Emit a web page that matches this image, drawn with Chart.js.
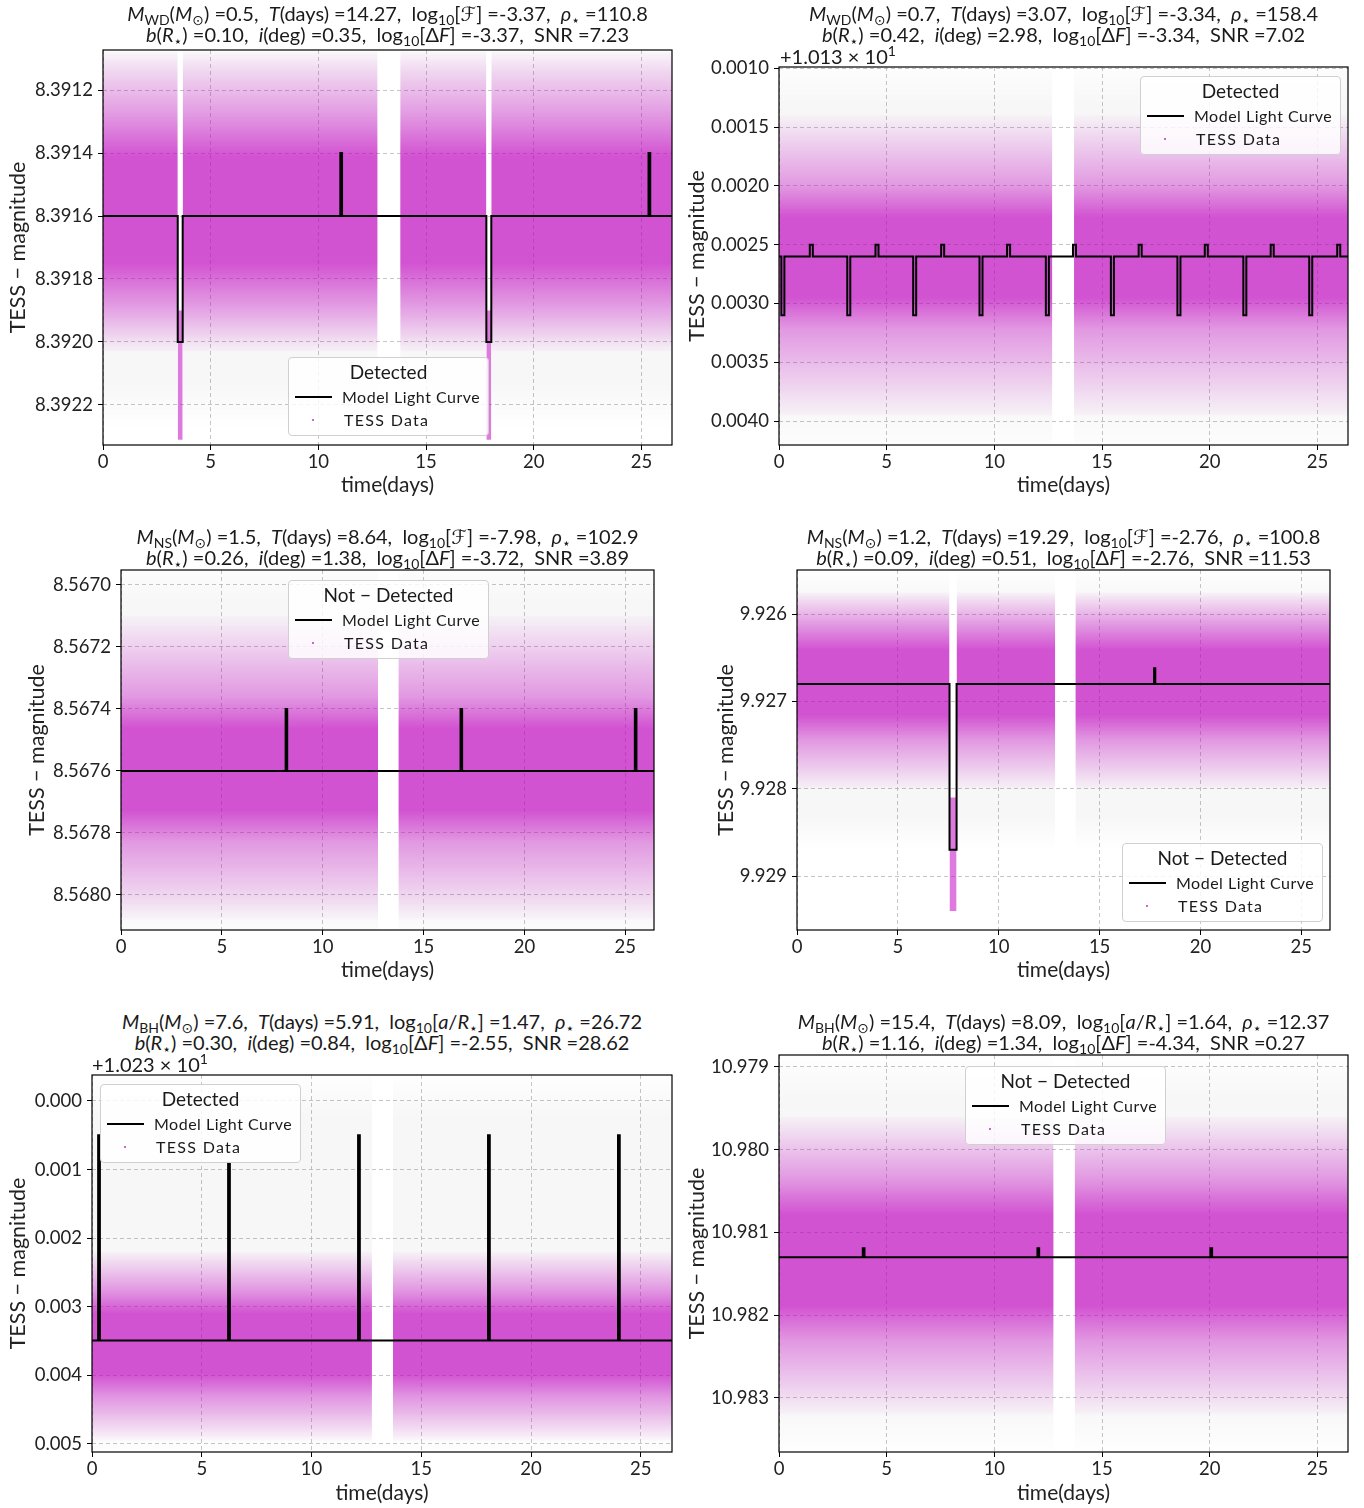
<!DOCTYPE html>
<html>
<head>
<meta charset="utf-8">
<title>TESS light curves</title>
<script src="https://cdn.jsdelivr.net/npm/chart.js@4.4.1/dist/chart.umd.min.js"></script>
<style>
  html,body{margin:0;padding:0;background:#fff;}
  #root{position:relative;width:1364px;height:1508px;overflow:hidden;background:#fff;font-family:Lato,"DejaVu Sans",sans-serif;color:#1a1a1a;}
  #root canvas{position:absolute;}
  .ttl{position:absolute;white-space:nowrap;text-align:center;font-size:20px;line-height:21px;transform:translateX(-50%);}
  .ttl i{font-style:italic;}
  .ttl sub{font-size:70%;vertical-align:-0.28em;line-height:0;}
  .off{position:absolute;font-size:20px;line-height:20px;white-space:nowrap;}
  .off sup{font-size:70%;vertical-align:0.55em;line-height:0;}
  .leg{position:absolute;width:201px;height:79px;box-sizing:border-box;border:1px solid #d0d0d0;border-radius:4px;background:rgba(255,255,255,0.82);}
  .leg .lt{position:absolute;left:0;right:0;top:3px;text-align:center;font-size:19px;line-height:22px;}
  .leg .ln{position:absolute;left:6px;top:38px;width:37px;height:2px;background:#000;}
  .leg .dot{position:absolute;left:23px;top:61px;width:2px;height:2px;border-radius:1px;background:#c030c0;}
  .leg .t1{position:absolute;left:53px;top:29px;font-size:16px;line-height:20px;letter-spacing:0.5px;}
  .leg .t2{position:absolute;left:55px;top:52px;font-size:16px;line-height:20px;letter-spacing:1.3px;}
</style>
</head>
<body>
<div id="root"></div>
<script>
// ===================== DATA =====================
const xTicks = [0, 5, 10, 15, 20, 25];

// ---- Panel 1 : WD 0.5 Msun (magnitude) ----
const p1_yTicks   = [8.3912, 8.3914, 8.3916, 8.3918, 8.3920, 8.3922];
const p1_modelT   = [0, 3.47, 3.70, 11.02, 11.10, 17.80, 18.03, 25.33, 25.41, 26.42];
const p1_modelMag = [8.3916, 8.3920, 8.3916, 8.3914, 8.3916, 8.3920, 8.3916, 8.3914, 8.3916, 8.3916];
// TESS data cloud (read band edges: dense core, sparse outer, error-bar haze)
const p1_t       = [0, 3.47, null, 3.70, 12.75, null, 13.80, 17.80, null, 18.03, 26.42];
const p1_coreHi  = [8.39128, 8.39128, null, 8.39128, 8.39128, null, 8.39128, 8.39128, null, 8.39128, 8.39128];
const p1_coreLo  = [8.39188, 8.39188, null, 8.39188, 8.39188, null, 8.39188, 8.39188, null, 8.39188, 8.39188];
const p1_outHi   = [8.39108, 8.39108, null, 8.39108, 8.39108, null, 8.39108, 8.39108, null, 8.39108, 8.39108];
const p1_outLo   = [8.39203, 8.39203, null, 8.39203, 8.39203, null, 8.39203, 8.39203, null, 8.39203, 8.39203];
const p1_errHi   = [8.39100, 8.39100, null, 8.39100, 8.39100, null, 8.39100, 8.39100, null, 8.39100, 8.39100];
const p1_errLo   = [8.39228, 8.39228, null, 8.39228, 8.39228, null, 8.39228, 8.39228, null, 8.39228, 8.39228];
// in-transit data columns
const p1_dipT  = [3.47, 3.70, null, 17.80, 18.03];
const p1_dipHi = [8.39190, 8.39190, null, 8.39190, 8.39190];
const p1_dipLo = [8.39231, 8.39231, null, 8.39231, 8.39231];

// ---- Panel 2 : WD 0.7 Msun (magnitude - 10.13) ----
const p2_yTicks   = [0.0010, 0.0015, 0.0020, 0.0025, 0.0030, 0.0035, 0.0040];
const p2_modelT   = [0, 0.11, 0.25, 1.43, 1.57, 3.17, 3.31, 4.48, 4.62, 6.23, 6.37, 7.53, 7.67, 9.31, 9.45, 10.59, 10.73,
                     12.39, 12.53, 13.65, 13.79, 15.41, 15.55, 16.70, 16.84, 18.50, 18.64, 19.77, 19.91, 21.56, 21.70,
                     22.83, 22.97, 24.62, 24.76, 25.92, 26.06, 26.42];
const p2_modelMag = [0.0026, 0.0031, 0.0026, 0.0025, 0.0026, 0.0031, 0.0026, 0.0025, 0.0026, 0.0031, 0.0026, 0.0025, 0.0026,
                     0.0031, 0.0026, 0.0025, 0.0026, 0.0031, 0.0026, 0.0025, 0.0026, 0.0031, 0.0026, 0.0025, 0.0026,
                     0.0031, 0.0026, 0.0025, 0.0026, 0.0031, 0.0026, 0.0025, 0.0026, 0.0031, 0.0026, 0.0025, 0.0026, 0.0026];
const p2_t      = [0, 12.69, null, 13.70, 26.42];
const p2_coreHi = [0.00200, 0.00200, null, 0.00200, 0.00200];
const p2_coreLo = [0.00322, 0.00322, null, 0.00322, 0.00322];
const p2_outHi  = [0.00140, 0.00140, null, 0.00140, 0.00140];
const p2_outLo  = [0.00395, 0.00395, null, 0.00395, 0.00395];
const p2_errHi  = [0.00090, 0.00090, null, 0.00090, 0.00090];
const p2_errLo  = [0.00430, 0.00430, null, 0.00430, 0.00430];
const p2_dipT = [], p2_dipHi = [], p2_dipLo = [];

// ---- Panel 3 : NS 1.5 Msun ----
const p3_yTicks   = [8.5670, 8.5672, 8.5674, 8.5676, 8.5678, 8.5680];
const p3_modelT   = [0, 8.16, 8.24, 16.83, 16.91, 25.47, 25.55, 26.42];
const p3_modelMag = [8.5676, 8.5674, 8.5676, 8.5674, 8.5676, 8.5674, 8.5676, 8.5676];
const p3_t      = [0, 12.74, null, 13.75, 26.42];
const p3_coreHi = [8.56736, 8.56736, null, 8.56736, 8.56736];
const p3_coreLo = [8.56783, 8.56783, null, 8.56783, 8.56783];
const p3_outHi  = [8.56710, 8.56710, null, 8.56710, 8.56710];
const p3_outLo  = [8.56808, 8.56808, null, 8.56808, 8.56808];
const p3_errHi  = [8.56690, 8.56690, null, 8.56690, 8.56690];
const p3_errLo  = [8.56818, 8.56818, null, 8.56818, 8.56818];
const p3_dipT = [], p3_dipHi = [], p3_dipLo = [];

// ---- Panel 4 : NS 1.2 Msun ----
const p4_yTicks   = [9.926, 9.927, 9.928, 9.929];
const p4_modelT   = [0, 7.56, 7.91, 17.70, 17.76, 26.42];
const p4_modelMag = [9.9268, 9.9287, 9.9268, 9.92662, 9.9268, 9.9268];
const p4_t      = [0, 7.56, null, 7.91, 12.80, null, 13.80, 26.42];
const p4_coreHi = [9.92612, 9.92612, null, 9.92612, 9.92612, null, 9.92612, 9.92612];
const p4_coreLo = [9.92745, 9.92745, null, 9.92745, 9.92745, null, 9.92745, 9.92745];
const p4_outHi  = [9.92575, 9.92575, null, 9.92575, 9.92575, null, 9.92575, 9.92575];
const p4_outLo  = [9.92800, 9.92800, null, 9.92800, 9.92800, null, 9.92800, 9.92800];
const p4_errHi  = [9.92545, 9.92545, null, 9.92545, 9.92545, null, 9.92545, 9.92545];
const p4_errLo  = [9.92870, 9.92870, null, 9.92870, 9.92870, null, 9.92870, 9.92870];
const p4_dipT  = [7.56, 7.91];
const p4_dipHi = [9.92810, 9.92810];
const p4_dipLo = [9.92940, 9.92940];

// ---- Panel 5 : BH 7.6 Msun (magnitude - 10.23) ----
const p5_yTicks   = [0.000, 0.001, 0.002, 0.003, 0.004, 0.005];
const p5_modelT   = [0, 0.28, 0.36, 6.20, 6.28, 12.12, 12.20, 18.04, 18.12, 23.96, 24.04, 26.42];
const p5_modelMag = [0.00349, 0.0005, 0.00349, 0.0009, 0.00349, 0.0005, 0.00349, 0.0005, 0.00349, 0.0005, 0.00349, 0.00349];
const p5_t      = [0, 12.75, null, 13.71, 26.42];
const p5_coreHi = [0.00275, 0.00275, null, 0.00275, 0.00275];
const p5_coreLo = [0.00433, 0.00433, null, 0.00433, 0.00433];
const p5_outHi  = [0.00220, 0.00220, null, 0.00220, 0.00220];
const p5_outLo  = [0.00495, 0.00495, null, 0.00495, 0.00495];
const p5_errHi  = [-0.00045, -0.00045, null, -0.00045, -0.00045];
const p5_errLo  = [0.00520, 0.00520, null, 0.00520, 0.00520];
const p5_dipT = [], p5_dipHi = [], p5_dipLo = [];

// ---- Panel 6 : BH 15.4 Msun ----
const p6_yTicks   = [10.979, 10.980, 10.981, 10.982, 10.983];
const p6_modelT   = [0, 3.89, 3.97, 12.00, 12.08, 20.03, 20.11, 26.42];
const p6_modelMag = [10.9813, 10.98119, 10.9813, 10.98119, 10.9813, 10.98119, 10.9813, 10.9813];
const p6_t      = [0, 12.75, null, 13.73, 26.42];
const p6_coreHi = [10.98035, 10.98035, null, 10.98035, 10.98035];
const p6_coreLo = [10.98232, 10.98232, null, 10.98232, 10.98232];
const p6_outHi  = [10.97960, 10.97960, null, 10.97960, 10.97960];
const p6_outLo  = [10.98320, 10.98320, null, 10.98320, 10.98320];
const p6_errHi  = [10.97880, 10.97880, null, 10.97880, 10.97880];
const p6_errLo  = [10.98372, 10.98372, null, 10.98372, 10.98372];
const p6_dipT = [], p6_dipHi = [], p6_dipLo = [];

// ---- Titles (parameters shown above each panel) ----
const titleObj    = ['WD', 'WD', 'NS', 'NS', 'BH', 'BH'];
const titleMass   = ['0.5', '0.7', '1.5', '1.2', '7.6', '15.4'];
const titlePeriod = ['14.27', '3.07', '8.64', '19.29', '5.91', '8.09'];
const titleThird  = ['F', 'F', 'F', 'F', 'a', 'a'];
const titleThirdV = ['-3.37', '-3.34', '-7.98', '-2.76', '1.47', '1.64'];
const titleRho    = ['110.8', '158.4', '102.9', '100.8', '26.72', '12.37'];
const titleB      = ['0.10', '0.42', '0.26', '0.09', '0.30', '1.16'];
const titleInc    = ['0.35', '2.98', '1.38', '0.51', '0.84', '1.34'];
const titleDF     = ['-3.37', '-3.34', '-3.72', '-2.76', '-2.55', '-4.34'];
const titleSNR    = ['7.23', '7.02', '3.89', '11.53', '28.62', '0.27'];
const legendTitle = ['Detected', 'Detected', 'Not \u2212 Detected', 'Not \u2212 Detected', 'Detected', 'Not \u2212 Detected'];

// ===================== LAYOUT =====================
const LAYOUT = [
  {plot:{l:103,t:50,r:672,b:445},   yLabX:18,  xLabY:485,  titleTop:3,    yMin:8.391073, yMax:8.392327, dec:4, leg:[288,357],  off:null},
  {plot:{l:779,t:67,r:1348,b:445},  yLabX:697, xLabY:485,  titleTop:3,    yMin:0.00099,  yMax:0.004203, dec:4, leg:[1140,76],  off:{x:780,y:46,txt:'+1.013 \u00d7 10<sup>1</sup>'}},
  {plot:{l:121,t:570,r:654,b:930},  yLabX:37,  xLabY:970,  titleTop:526,  yMin:8.566952, yMax:8.568113, dec:4, leg:[288,580],  off:null},
  {plot:{l:797,t:570,r:1330,b:930}, yLabX:726, xLabY:970,  titleTop:526,  yMin:9.925496, yMax:9.929618, dec:3, leg:[1122,843], off:null},
  {plot:{l:92,t:1075,r:672,b:1452}, yLabX:18,  xLabY:1493, titleTop:1011, yMin:-0.000379, yMax:0.005117, dec:3, leg:[100,1084], off:{x:92,y:1054,txt:'+1.023 \u00d7 10<sup>1</sup>'}},
  {plot:{l:779,t:1055,r:1348,b:1452},yLabX:697,xLabY:1493, titleTop:1011, yMin:10.978855, yMax:10.983653, dec:3, leg:[965,1066], off:null}
];
const SERIES = [
  {yTicks:p1_yTicks, mT:p1_modelT, mY:p1_modelMag, t:p1_t, cH:p1_coreHi, cL:p1_coreLo, oH:p1_outHi, oL:p1_outLo, eH:p1_errHi, eL:p1_errLo, dT:p1_dipT, dH:p1_dipHi, dL:p1_dipLo},
  {yTicks:p2_yTicks, mT:p2_modelT, mY:p2_modelMag, t:p2_t, cH:p2_coreHi, cL:p2_coreLo, oH:p2_outHi, oL:p2_outLo, eH:p2_errHi, eL:p2_errLo, dT:p2_dipT, dH:p2_dipHi, dL:p2_dipLo},
  {yTicks:p3_yTicks, mT:p3_modelT, mY:p3_modelMag, t:p3_t, cH:p3_coreHi, cL:p3_coreLo, oH:p3_outHi, oL:p3_outLo, eH:p3_errHi, eL:p3_errLo, dT:p3_dipT, dH:p3_dipHi, dL:p3_dipLo},
  {yTicks:p4_yTicks, mT:p4_modelT, mY:p4_modelMag, t:p4_t, cH:p4_coreHi, cL:p4_coreLo, oH:p4_outHi, oL:p4_outLo, eH:p4_errHi, eL:p4_errLo, dT:p4_dipT, dH:p4_dipHi, dL:p4_dipLo},
  {yTicks:p5_yTicks, mT:p5_modelT, mY:p5_modelMag, t:p5_t, cH:p5_coreHi, cL:p5_coreLo, oH:p5_outHi, oL:p5_outLo, eH:p5_errHi, eL:p5_errLo, dT:p5_dipT, dH:p5_dipHi, dL:p5_dipLo},
  {yTicks:p6_yTicks, mT:p6_modelT, mY:p6_modelMag, t:p6_t, cH:p6_coreHi, cL:p6_coreLo, oH:p6_outHi, oL:p6_outLo, eH:p6_errHi, eL:p6_errLo, dT:p6_dipT, dH:p6_dipHi, dL:p6_dipLo}
];

const MAG = '191,0,191';
const GRAY = '0,0,0';
const COL_DIP = 'rgba(191,0,191,0.52)';
const FONT = 'Lato, "DejaVu Sans", sans-serif';

Chart.defaults.font.family = FONT;
Chart.defaults.color = '#222';

const root = document.getElementById('root');

const framePlugin = {
  id: 'frame',
  afterDraw(chart) {
    const {ctx, chartArea: a} = chart;
    ctx.save();
    ctx.strokeStyle = '#000';
    ctx.lineWidth = 1.2;
    ctx.strokeRect(a.left, a.top, a.right - a.left, a.bottom - a.top);
    ctx.restore();
  }
};

// vertical gradient fill whose stops sit at data values on the y scale
function gradientFill(rgb, v0, v1, stops, fallback) {
  return (c) => {
    const ch = c.chart;
    if (!ch.chartArea || !ch.scales.y) return fallback;
    const y = ch.scales.y;
    const p0 = y.getPixelForValue(v0), p1 = y.getPixelForValue(v1);
    if (!isFinite(p0) || !isFinite(p1) || p0 === p1) return fallback;
    const g = ch.ctx.createLinearGradient(0, p0, 0, p1);
    stops.forEach(([f, a]) => g.addColorStop(Math.min(1, Math.max(0, f)), 'rgba(' + rgb + ',' + a + ')'));
    return g;
  };
}

function pushBand(datasets, t, hi, lo, color) {
  const segs = [];
  let cur = null;
  t.forEach((tv, i) => {
    if (tv === null) { cur = null; return; }
    if (!cur) { cur = {hi: [], lo: []}; segs.push(cur); }
    cur.hi.push({x: tv, y: hi[i]});
    cur.lo.push({x: tv, y: lo[i]});
  });
  segs.forEach(s => {
    const upIdx = datasets.length;
    datasets.push({data: s.hi, borderColor: 'rgba(0,0,0,0)', borderWidth: 0, pointRadius: 0, fill: false, tension: 0});
    datasets.push({data: s.lo, borderColor: 'rgba(0,0,0,0)', borderWidth: 0, pointRadius: 0, fill: upIdx, backgroundColor: color, tension: 0});
  });
}

function titleHTML(k) {
  const third = titleThird[k] === 'F'
    ? 'log<sub>10</sub>[<i>\u2131</i>] =' + titleThirdV[k]
    : 'log<sub>10</sub>[<i>a</i>/<i>R</i><sub>\u22c6</sub>] =' + titleThirdV[k];
  const l1 = '<i>M</i><sub>' + titleObj[k] + '</sub>(<i>M</i><sub>\u2299</sub>) =' + titleMass[k] +
             ',&nbsp; <i>T</i>(days) =' + titlePeriod[k] + ',&nbsp; ' + third +
             ',&nbsp; <i>\u03c1</i><sub>\u22c6</sub> =' + titleRho[k];
  const l2 = '<i>b</i>(<i>R</i><sub>\u22c6</sub>) =' + titleB[k] + ',&nbsp; <i>i</i>(deg) =' + titleInc[k] +
             ',&nbsp; log<sub>10</sub>[\u0394<i>F</i>] =' + titleDF[k] + ',&nbsp; SNR =' + titleSNR[k];
  return l1 + '<br>' + l2;
}

LAYOUT.forEach((L, k) => {
  const S = SERIES[k];
  const P = L.plot;
  const PT = 8, PR = 12;
  const cLeft = L.yLabX - 13;
  const cTop = P.t - PT;
  const cRight = P.r + PR;
  const cBottom = L.xLabY + 13;
  const YW = P.l - cLeft;
  const XH = cBottom - P.b;

  const cv = document.createElement('canvas');
  cv.width = cRight - cLeft;
  cv.height = cBottom - cTop;
  cv.style.left = cLeft + 'px';
  cv.style.top = cTop + 'px';
  cv.style.width = (cRight - cLeft) + 'px';
  cv.style.height = (cBottom - cTop) + 'px';
  root.appendChild(cv);

  // density profile: gradient stops placed at the read band edges
  const oH = S.oH[0], oL = S.oL[0], cH = S.cH[0], cL = S.cL[0];
  const f1 = (cH - oH) / (oL - oH), f2 = (cL - oH) / (oL - oH);
  const coreFill = gradientFill(MAG, cH, cL, [[0, 0.0], [0.22, 0.46], [0.78, 0.46], [1, 0.0]], 'rgba(' + MAG + ',0.4)');
  const outFill  = gradientFill(MAG, oH, oL, [[0, 0.02], [f1, 0.38], [f2, 0.38], [1, 0.02]], 'rgba(' + MAG + ',0.15)');
  const errFill  = gradientFill(GRAY, S.eH[0], S.eL[0], [[0, 0.0], [0.12, 0.03], [0.88, 0.03], [1, 0.0]], 'rgba(0,0,0,0.025)');

  const datasets = [];
  datasets.push({
    data: S.mT.map((tv, i) => ({x: tv, y: S.mY[i]})),
    borderColor: '#000', borderWidth: 2, pointRadius: 0, fill: false, stepped: 'before', tension: 0
  });
  if (S.dT.length) pushBand(datasets, S.dT, S.dH, S.dL, COL_DIP);
  pushBand(datasets, S.t, S.cH, S.cL, coreFill);
  pushBand(datasets, S.t, S.oH, S.oL, outFill);
  pushBand(datasets, S.t, S.eH, S.eL, errFill);

  const gridCommon = {
    color: '#b8b8b8', lineWidth: 0.8, borderDash: [4, 3],
    drawTicks: true, tickLength: 5, tickColor: '#000', tickWidth: 1, tickBorderDash: []
  };

  new Chart(cv, {
    type: 'line',
    data: {datasets},
    plugins: [framePlugin],
    options: {
      responsive: false, animation: false, events: [],
      layout: {padding: {top: PT, right: PR, left: 0, bottom: 0}},
      plugins: {legend: {display: false}, tooltip: {enabled: false}, title: {display: false}},
      elements: {point: {radius: 0}},
      scales: {
        x: {
          type: 'linear', min: 0, max: 26.42,
          afterBuildTicks: s => { s.ticks = xTicks.map(v => ({value: v})); },
          afterFit: s => { s.height = XH; s.paddingLeft = 0; s.paddingRight = 0; },
          grid: gridCommon,
          border: {display: false, dash: [4, 3]},
          ticks: {font: {size: 18.5}, padding: 1, maxRotation: 0, autoSkip: false, color: '#222',
                  callback: v => String(v)},
          title: {display: true, text: 'time(days)', font: {size: 21, lineHeight: 1.2}, padding: {top: 0, bottom: 0}, color: '#222'}
        },
        y: {
          type: 'linear', reverse: true, min: L.yMin, max: L.yMax,
          afterBuildTicks: s => { s.ticks = S.yTicks.map(v => ({value: v})); },
          afterFit: s => { s.width = YW; s.paddingTop = 0; s.paddingBottom = 0; },
          grid: gridCommon,
          border: {display: false, dash: [4, 3]},
          ticks: {font: {size: 18.5}, padding: 5, autoSkip: false, color: '#222',
                  callback: v => Number(v).toFixed(L.dec)},
          title: {display: true, text: 'TESS \u2212 magnitude', font: {size: 21.5, lineHeight: 1.2}, padding: {top: 0, bottom: 0}, color: '#222'}
        }
      }
    }
  });

  // title
  const tt = document.createElement('div');
  tt.className = 'ttl';
  tt.style.left = ((P.l + P.r) / 2) + 'px';
  tt.style.top = L.titleTop + 'px';
  tt.innerHTML = titleHTML(k);
  root.appendChild(tt);

  // offset text
  if (L.off) {
    const o = document.createElement('div');
    o.className = 'off';
    o.style.left = L.off.x + 'px';
    o.style.top = L.off.y + 'px';
    o.innerHTML = L.off.txt;
    root.appendChild(o);
  }

  // legend
  const lg = document.createElement('div');
  lg.className = 'leg';
  lg.style.left = L.leg[0] + 'px';
  lg.style.top = L.leg[1] + 'px';
  lg.innerHTML = '<div class="lt">' + legendTitle[k] + '</div><div class="ln"></div><div class="t1">Model Light Curve</div>' +
                 '<div class="dot"></div><div class="t2">TESS Data</div>';
  root.appendChild(lg);
});
</script>
</body>
</html>
